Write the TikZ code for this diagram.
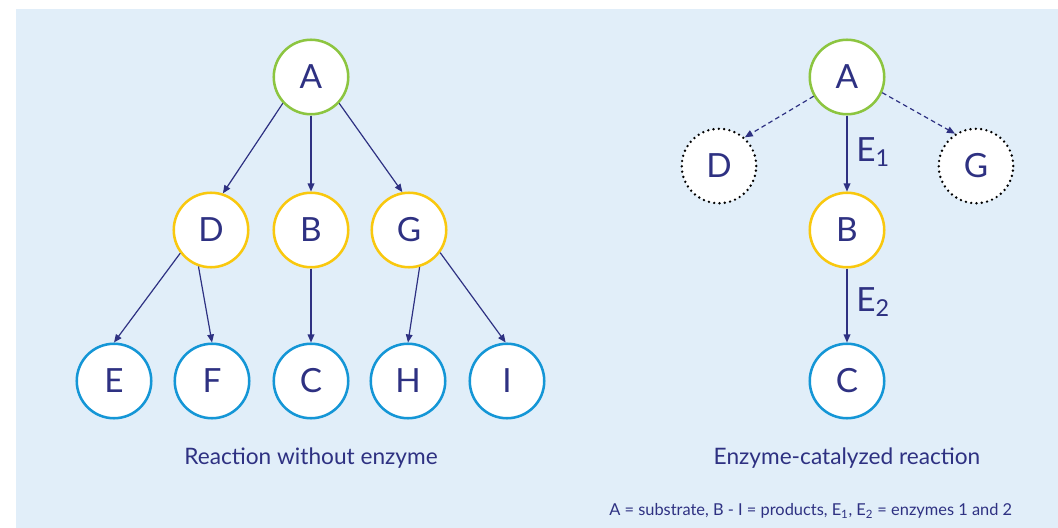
\documentclass[tikz,border=0pt]{standalone}
\usepackage{fontspec}
\setmainfont{Lato}
\usetikzlibrary{arrows.meta}
\definecolor{bgblue}{HTML}{E1EEF9}
\definecolor{navy}{HTML}{2E3182}
\definecolor{cgreen}{HTML}{8CC540}
\definecolor{cyellow}{HTML}{F9C80E}
\definecolor{cblue}{HTML}{1496D6}
\tikzset{
  base/.style={circle, minimum size=74.5*0.75pt, inner sep=0pt, fill=white, line width=1.9pt, text=navy, font=\fontsize{25}{29}\selectfont},
  sub/.style={base, draw=cgreen},
  prod/.style={base, draw=cyellow},
  fin/.style={base, draw=cblue},
  ghost/.style={base, draw=black, line width=2pt, dash pattern=on 0pt off 4pt, line cap=round},
  arr/.style={draw=navy, line width=0.9pt, -{Triangle[length=6pt,width=5pt]}},
  darr/.style={arr, dash pattern=on 3.5pt off 2.5pt},
  lbl/.style={text=navy, font=\fontsize{25}{29}\selectfont, inner sep=0pt, anchor=west},
  captext/.style={text=navy, font=\fontsize{17}{20}\selectfont, inner sep=0pt},
  legtext/.style={text=navy, font=\fontsize{12.3}{14}\selectfont, inner sep=0pt}
}
\begin{document}
\begin{tikzpicture}[x=0.75pt, y=-0.75pt]
\useasboundingbox (0,0) rectangle (1058,528);
\fill[bgblue] (16,9) rectangle (1058,528);
% left tree
\node[sub]  (A)  at (311,77)  {A};
\node[prod] (D)  at (211,230) {D};
\node[prod] (B)  at (311,230) {B};
\node[prod] (G)  at (409,230) {G};
\node[fin]  (E)  at (114,381) {E};
\node[fin]  (F)  at (212,381) {F};
\node[fin]  (C)  at (311,381) {C};
\node[fin]  (H)  at (408,381) {H};
\node[fin]  (I)  at (507,381) {I};
\draw[arr] (A.-137) -- (D.72);
\draw[arr] (A.-90) -- (B.90);
\draw[arr] (A.-43) -- (G.100);
\draw[arr] (D.-143) -- (E.90);
\draw[arr] (D.-109) -- (F.90);
\draw[arr] (B.-90) -- (C.90);
\draw[arr] (G.-74) -- (H.90);
\draw[arr] (G.-36) -- (I.92);
\node[captext] (capL) at (311,458) {Reaction without enzyme};
% right tree
\node[sub]   (A2) at (847,77)  {A};
\node[ghost] (D2) at (719,166) {D};
\node[ghost] (G2) at (976,166) {G};
\node[prod]  (B2) at (847,230) {B};
\node[fin]   (C2) at (847,381) {C};
\draw[darr] (A2.-150) -- (D2.48);
\draw[darr] (A2.-24) -- (G2.123);
\draw[arr] (A2.-90) -- (B2.90);
\draw[arr] (B2.-90) -- (C2.90);
\node[lbl] (E1) at (856,152) {E\textsubscript{1}};
\node[lbl] (E2) at (856,302) {E\textsubscript{2}};
\node[captext] (capR) at (847,458) {Enzyme-catalyzed reaction};
\node[legtext, anchor=west] (legend) at (609,511) {A = substrate, B - I = products, E\textsubscript{1}, E\textsubscript{2} = enzymes 1 and 2};
\end{tikzpicture}
\end{document}
